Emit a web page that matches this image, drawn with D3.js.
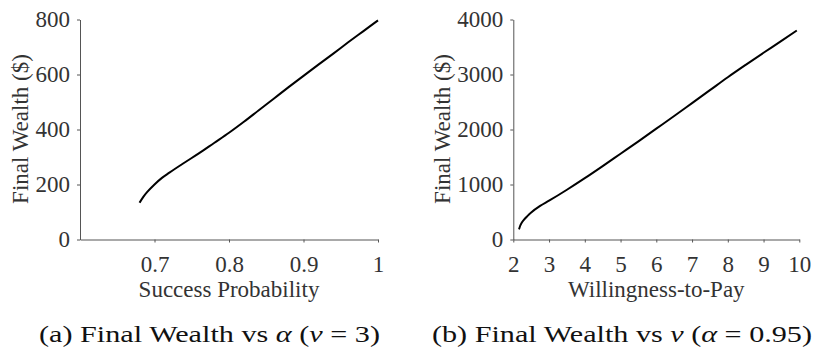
<!DOCTYPE html>
<html>
<head>
<meta charset="utf-8">
<script src="https://cdn.jsdelivr.net/npm/d3@7"></script>
<style>
  body { margin: 0; background: #fff; }
  svg { display: block; }
</style>
</head>
<body>
<div id="chart"></div>
<script>
// panel (a): final wealth vs success probability (v = 3)
const alphaVals = [0.68, 0.685, 0.69, 0.70, 0.71, 0.72, 0.74, 0.76, 0.78, 0.80, 0.82, 0.84, 0.86, 0.88, 0.90, 0.92, 0.94, 0.96, 0.98, 1.0];
const wealthByAlpha = [134, 155, 172, 200, 224, 243, 279, 314, 351, 388, 428, 470, 512, 554, 595, 636, 676, 717, 757, 797];
const alphaTicks = [0.7, 0.8, 0.9, 1];
const wealthTicksA = [0, 200, 400, 600, 800];

// panel (b): final wealth vs willingness-to-pay (alpha = 0.95)
const wtpVals = [2.16, 2.2, 2.3, 2.4, 2.5, 2.75, 3.0, 3.5, 4.0, 4.5, 5.0, 5.5, 6.0, 6.5, 7.0, 7.5, 8.0, 8.5, 9.0, 9.5, 9.93];
const wealthByWtp = [185, 260, 360, 430, 490, 610, 705, 905, 1115, 1335, 1560, 1785, 2015, 2245, 2480, 2715, 2950, 3175, 3395, 3610, 3800];
const wtpTicks = [2, 3, 4, 5, 6, 7, 8, 9, 10];
const wealthTicksB = [0, 1000, 2000, 3000, 4000];

const SERIF = '"Liberation Serif", "Times New Roman", serif';

const svg = d3.select('#chart').append('svg')
  .attr('width', 823)
  .attr('height', 350);

function styleAxis(g) {
  g.selectAll('path, line').attr('stroke', '#555');
  g.selectAll('text')
    .style('font-family', SERIF)
    .style('font-size', '23px')
    .attr('fill', '#333');
}

function drawPanel(opts) {
  const x = d3.scaleLinear().domain(opts.xDomain).range(opts.xRange);
  const y = d3.scaleLinear().domain(opts.yDomain).range([239.5, 19.5]);

  // axes
  const gx = svg.append('g')
    .attr('transform', 'translate(0,239.5)')
    .call(d3.axisBottom(x).tickValues(opts.xTicks).tickSize(3).tickSizeOuter(0).tickFormat(d3.format('')));
  styleAxis(gx);
  gx.selectAll('text').attr('y', 32.5).attr('dy', 0);

  const gy = svg.append('g')
    .attr('transform', `translate(${opts.xRange[0]},0)`)
    .call(d3.axisLeft(y).tickValues(opts.yTicks).tickSize(3).tickSizeOuter(0).tickPadding(7).tickFormat(d3.format('')));
  styleAxis(gy);

  // line
  const pts = opts.xs.map((v, i) => [v, opts.ys[i]]);
  svg.append('path')
    .datum(pts)
    .attr('fill', 'none')
    .attr('stroke', '#000')
    .attr('stroke-width', 2)
    .attr('d', d3.line().x(d => x(d[0])).y(d => y(d[1])).curve(d3.curveMonotoneX));

  // axis titles
  const xMid = (opts.xRange[0] + opts.xRange[1]) / 2;
  svg.append('text')
    .attr('x', xMid)
    .attr('y', 297)
    .attr('text-anchor', 'middle')
    .attr('fill', '#333')
    .style('font-family', SERIF)
    .style('font-size', '23px')
    .text(opts.xTitle);

  svg.append('text')
    .attr('transform', `translate(${opts.yTitleX},129) rotate(-90)`)
    .attr('text-anchor', 'middle')
    .attr('fill', '#333')
    .style('font-family', SERIF)
    .style('font-size', '23px')
    .text('Final Wealth ($)');

  // caption
  const cap = svg.append('text')
    .attr('x', opts.capX - opts.capW / 2)
    .attr('y', 342)
    .attr('textLength', opts.capW)
    .attr('lengthAdjust', 'spacingAndGlyphs')
    .attr('fill', '#111')
    .style('font-family', SERIF)
    .style('font-size', '23px');
  opts.caption.forEach(part => {
    cap.append('tspan')
      .style('font-style', part[1] ? 'italic' : null)
      .text(part[0]);
  });
}

drawPanel({
  xDomain: [0.6, 1.0], xRange: [80, 378],
  yDomain: [0, 800],
  xTicks: alphaTicks, yTicks: wealthTicksA,
  xs: alphaVals, ys: wealthByAlpha,
  xTitle: 'Success Probability', yTitleX: 28,
  capX: 209.5, capW: 341,
  caption: [['(a) Final Wealth vs '], ['α', true], [' ('], ['v', true], [' = 3)']]
});

drawPanel({
  xDomain: [2, 10], xRange: [513.3, 799.3],
  yDomain: [0, 4000],
  xTicks: wtpTicks, yTicks: wealthTicksB,
  xs: wtpVals, ys: wealthByWtp,
  xTitle: 'Willingness-to-Pay', yTitleX: 449.5,
  capX: 622, capW: 380,
  caption: [['(b) Final Wealth vs '], ['v', true], [' ('], ['α', true], [' = 0.95)']]
});
</script>
</body>
</html>
